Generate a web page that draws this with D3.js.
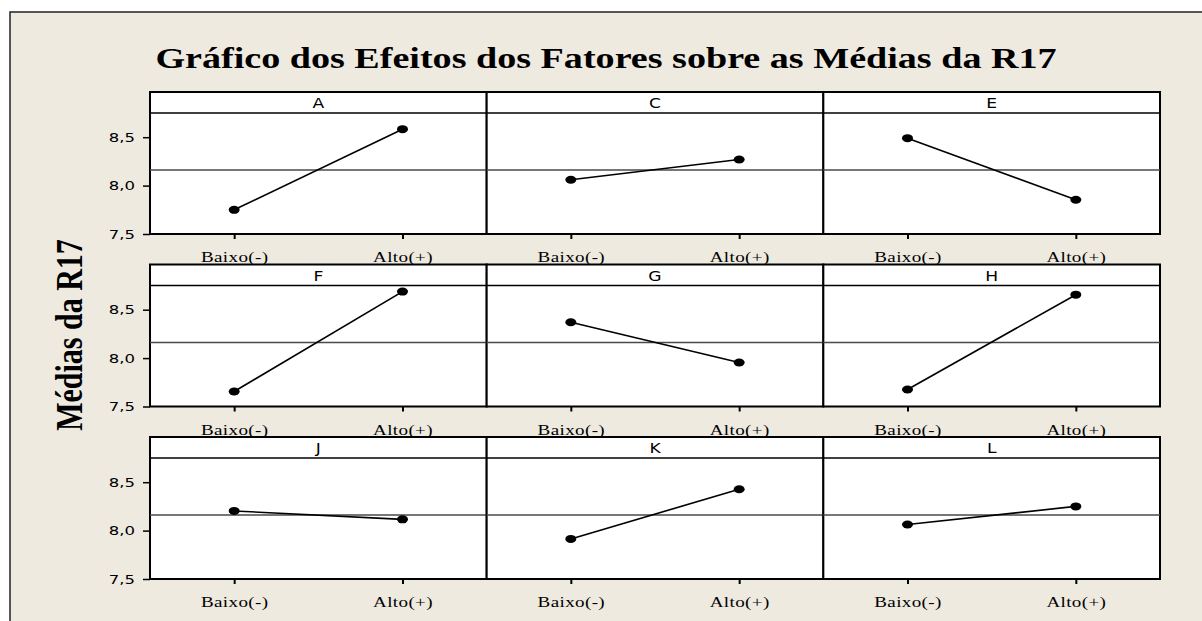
<!DOCTYPE html>
<html>
<head>
<meta charset="utf-8">
<script src="https://cdn.jsdelivr.net/npm/d3@7"></script>
<style>
    body { margin: 0; background: #ffffff; }
    svg { display: block; }
</style>
</head>
<body>
<div id="chart"></div>
<script>
// Data
var factors = ["A", "C", "E", "F", "G", "H", "J", "K", "L"];
var levels = ["Baixo(-)", "Alto(+)"];
var lowMeans = [7.75, 8.06, 8.49, 7.655, 8.37, 7.676, 8.203, 7.914, 8.063];
var highMeans = [8.583, 8.27, 7.854, 8.687, 7.955, 8.655, 8.116, 8.427, 8.25];
var grandMean = 8.16;
var yTicks = [7.5, 8.0, 8.5];

var width = 1202;
var height = 621;
var sx = 1.27; // the picture is stretched sideways, so is all the flat text

var svg = d3.select("#chart")
    .append("svg")
    .attr("width", width)
    .attr("height", height);

// beige frame, its right and bottom edges fall outside the window
svg.append("rect")
    .attr("x", 10)
    .attr("y", 12)
    .attr("width", 1300)
    .attr("height", 700)
    .attr("fill", "#eeeae0")
    .attr("stroke", "#222")
    .attr("stroke-width", 1.5);

// title
svg.append("text")
    .attr("transform", "translate(606,68) scale(" + sx + ",1)")
    .attr("text-anchor", "middle")
    .style("font-family", "'Liberation Serif', 'Times New Roman', serif")
    .style("font-weight", "bold")
    .style("font-size", "30px")
    .text("Gráfico dos Efeitos dos Fatores sobre as Médias da R17");

// y label
svg.append("text")
    .attr("transform", "translate(82,335) scale(" + sx + ",1) rotate(-90)")
    .attr("text-anchor", "middle")
    .style("font-family", "'Liberation Serif', 'Times New Roman', serif")
    .style("font-weight", "bold")
    .style("font-size", "30px")
    .text("Médias da R17");

// panel layout
var left = 150;
var right = 1160;
var top0 = 92;
var rowStep = 172.5;
var stripH = 21;
var panelH = 142;
var panelW = (right - left) / 3;

var x = d3.scalePoint()
    .domain(levels)
    .range([0, panelW])
    .padding(0.5);

var y = d3.scaleLinear()
    .domain([7.5, 8.75])
    .range([panelH, stripH]);

var fmt = d3.formatLocale({ decimal: ",", thousands: ".", grouping: [3], currency: ["", ""] }).format(".1f");

var line = d3.line()
    .x(function (d) { return x(d.level); })
    .y(function (d) { return y(d.value); });

factors.forEach(function (f, i) {
    var col = i % 3;
    var row = Math.floor(i / 3);
    var g = svg.append("g")
        .attr("transform", "translate(" + (left + col * panelW) + "," + (top0 + row * rowStep) + ")");

    var pts = [
        { level: levels[0], value: lowMeans[i] },
        { level: levels[1], value: highMeans[i] }
    ];

    // panel + strip
    g.append("rect")
        .attr("width", panelW)
        .attr("height", panelH)
        .attr("fill", "#fff")
        .attr("stroke", "#000")
        .attr("stroke-width", 2);

    g.append("line")
        .attr("x1", 0).attr("x2", panelW)
        .attr("y1", stripH).attr("y2", stripH)
        .attr("stroke", "#000")
        .attr("stroke-width", 1.5);

    g.append("text")
        .attr("transform", "translate(" + (panelW / 2) + ",16) scale(" + sx + ",1)")
        .attr("text-anchor", "middle")
        .style("font-family", "'DejaVu Sans', Verdana, sans-serif")
        .style("font-size", "13.5px")
        .text(f);

    // grand mean reference
    g.append("line")
        .attr("x1", 0).attr("x2", panelW)
        .attr("y1", y(grandMean)).attr("y2", y(grandMean))
        .attr("stroke", "#4a4a4a")
        .attr("stroke-width", 1.5);

    g.append("path")
        .datum(pts)
        .attr("d", line)
        .attr("fill", "none")
        .attr("stroke", "#000")
        .attr("stroke-width", 1.6);

    g.selectAll(".pt")
        .data(pts)
        .enter().append("ellipse")
        .attr("class", "pt")
        .attr("cx", function (d) { return x(d.level); })
        .attr("cy", function (d) { return y(d.value); })
        .attr("rx", 5.5)
        .attr("ry", 4)
        .attr("fill", "#000");

    // x axis
    var xa = g.append("g")
        .attr("transform", "translate(0," + panelH + ")")
        .call(d3.axisBottom(x).tickSize(5));
    xa.select(".domain").remove();
    xa.selectAll("line").attr("stroke", "#000").attr("stroke-width", 2);
    xa.selectAll("text")
        .attr("y", null)
        .attr("dy", null)
        .attr("transform", "translate(0,28) scale(" + sx + ",1)")
        .attr("fill", "#000")
        .style("font-family", "'Liberation Serif', 'Times New Roman', serif")
        .style("font-size", "15px")
        .style("letter-spacing", "0.3px");

    // y axis on the first column only
    if (col === 0) {
        var ya = g.append("g")
            .call(d3.axisLeft(y).tickValues(yTicks).tickSize(7).tickPadding(8).tickFormat(fmt));
        ya.select(".domain").remove();
        ya.selectAll("line").attr("stroke", "#000").attr("stroke-width", 1.5);
        ya.selectAll("text")
            .attr("x", -15 / sx)
            .attr("transform", "scale(" + sx + ",1)")
            .attr("fill", "#000")
            .style("font-family", "'DejaVu Sans', Verdana, sans-serif")
            .style("font-size", "13px");
    }
});
</script>
</body>
</html>
